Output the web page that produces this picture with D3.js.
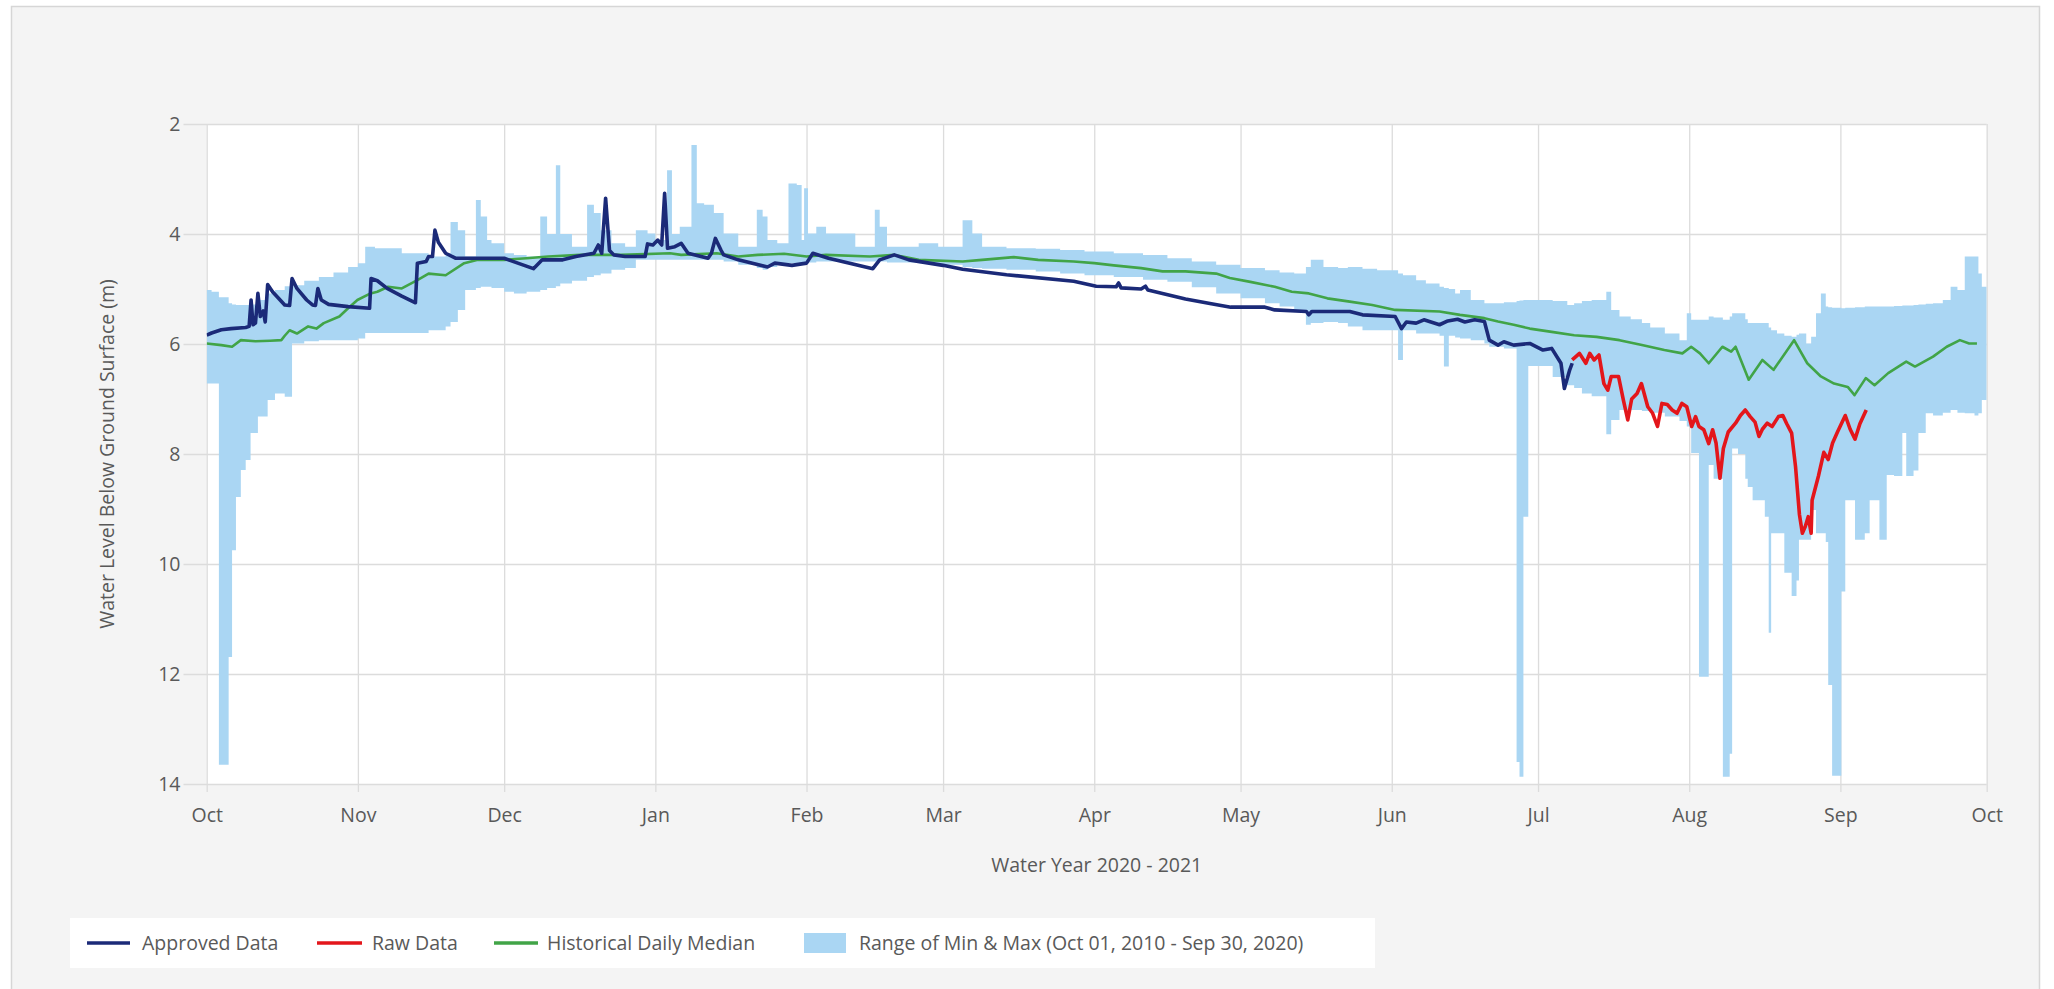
<!DOCTYPE html>
<html>
<head>
<meta charset="utf-8">
<title>Water Level Below Ground Surface</title>
<script src="https://cdn.jsdelivr.net/npm/d3@7"></script>
<style>
  html, body { margin: 0; padding: 0; background: #ffffff; }
  svg { display: block; }
  text { font-family: "Open Sans", "Noto Sans", sans-serif; fill: #595959; }
</style>
</head>
<body>
<svg id="chart" width="2054" height="989"></svg>
<script>
// Days since Oct 1, 2020 (start of the water year) paired with depth below ground surface (m)
const approvedSeries = [
  [0,5.84],[1,5.8],[3,5.74],[5,5.72],[8,5.7],[8.7,5.68],[9.1,5.2],[9.5,5.65],[10,5.62],[10.5,5.08],
  [11,5.5],[11.6,5.4],[12,5.6],[12.5,4.92],[13.5,5.05],[16,5.29],[17,5.3],[17.5,4.81],[18.5,4.99],
  [20.5,5.2],[21.7,5.29],[22.3,5.3],[22.8,4.99],[23.5,5.2],[25,5.28],[29,5.32],[33.4,5.35],[33.7,4.81],
  [35,4.85],[37,4.99],[40,5.13],[42.3,5.23],[42.8,5.25],[43.2,4.53],[45,4.5],[45.5,4.41],[46.3,4.41],
  [46.8,3.93],[47.5,4.15],[49,4.35],[51,4.44],[55.6,4.44],[61,4.44],[63.8,4.53],[67,4.63],[68.8,4.47],
  [73,4.47],[75.7,4.41],[79.4,4.35],[80.3,4.2],[81,4.35],[81.8,3.35],[82.6,4.3],[83.5,4.38],[85.8,4.41],
  [89.9,4.41],[90.4,4.18],[91.5,4.2],[92.5,4.11],[93.3,4.2],[93.9,3.26],[94.5,4.26],[96,4.23],[97.3,4.17],
  [98.7,4.35],[102.8,4.44],[103.5,4.35],[104.3,4.08],[105.5,4.3],[106,4.38],[109,4.47],[115,4.6],
  [116.5,4.53],[120,4.57],[123,4.53],[124.3,4.35],[127.5,4.44],[136.6,4.63],[138,4.47],[141,4.38],
  [144,4.47],[151,4.57],[155,4.64],[164,4.74],[177.8,4.86],[182.4,4.95],[186.5,4.96],[187,4.89],
  [187.5,4.98],[191.6,5.0],[192.5,4.95],[193,5.02],[200.7,5.18],[206,5.27],[210,5.33],[217,5.33],
  [219,5.38],[225.5,5.41],[226,5.47],[226.6,5.41],[234.4,5.41],[237,5.47],[243.7,5.5],[245,5.72],
  [246,5.6],[248,5.62],[249.6,5.56],[252.8,5.65],[254.5,5.58],[256.5,5.55],[258,5.6],[260,5.56],
  [262,5.59],[263,5.93],[264.8,6.02],[266,5.96],[268,6.02],[271.3,5.99],[274,6.11],[275.8,6.08],
  [277.7,6.35],[278.4,6.81],[279.5,6.47],[280,6.35]
];

const rawSeries = [
  [280,6.29],[281.5,6.17],[282.8,6.35],[283.6,6.17],[284.5,6.29],[285.5,6.2],[286.5,6.72],[287.3,6.84],
  [288,6.59],[289.5,6.59],[290.5,7.02],[291.4,7.38],[292.2,7.0],[293.3,6.9],[294.2,6.72],[295.5,7.14],
  [296.5,7.26],[297.5,7.5],[298.4,7.08],[299.5,7.1],[300.5,7.2],[301.5,7.26],[302.5,7.08],[303.5,7.14],
  [304.5,7.5],[305.3,7.32],[306,7.5],[307,7.56],[308,7.81],[308.8,7.56],[309.5,7.8],[310.3,8.44],
  [311,7.9],[312,7.6],[313.5,7.44],[314.5,7.3],[315.5,7.2],[316.5,7.32],[317.5,7.42],[318.3,7.68],
  [319,7.55],[320,7.44],[321,7.5],[322.3,7.32],[323.2,7.3],[324,7.45],[325,7.62],[325.8,8.23],
  [326.6,9.1],[327.2,9.44],[327.8,9.32],[328.4,9.14],[329,9.44],[329.2,8.84],[330.5,8.4],[331.6,7.97],
  [332.5,8.1],[333.4,7.8],[334.4,7.6],[335.2,7.45],[336,7.3],[337,7.55],[338,7.73],[339,7.45],[340.3,7.2]
];

const medianSeries = [
  [0,5.99],[3,6.02],[5.2,6.05],[7,5.93],[10,5.95],[13,5.94],[15.3,5.93],[16,5.85],[17,5.75],[18.5,5.81],
  [20.8,5.68],[22.5,5.72],[24,5.62],[27.2,5.5],[29,5.35],[30.9,5.2],[33.6,5.08],[35,5.05],[37.2,4.96],
  [40,4.99],[43.2,4.84],[45.5,4.72],[49,4.75],[52.8,4.53],[55.6,4.47],[61,4.47],[65.6,4.44],[70,4.41],
  [76.6,4.38],[85,4.38],[95,4.35],[97.3,4.38],[104.6,4.35],[109,4.41],[113,4.38],[118.4,4.36],[123,4.41],
  [127,4.38],[136,4.41],[141,4.38],[146,4.47],[155,4.5],[159,4.47],[165.5,4.42],[170.5,4.47],[177.8,4.5],
  [182,4.53],[186,4.57],[191.6,4.62],[196,4.68],[200.7,4.68],[207,4.72],[209.8,4.8],[214,4.87],[219,4.96],
  [222.5,5.05],[226,5.08],[229.8,5.17],[234.4,5.23],[239,5.29],[243.7,5.38],[252.8,5.41],[257,5.47],
  [262,5.53],[264.8,5.59],[268,5.65],[271.3,5.72],[275.8,5.78],[280.4,5.84],[285,5.87],[289.7,5.93],
  [294.3,6.02],[298.9,6.11],[302.6,6.17],[304.4,6.05],[306.2,6.17],[308,6.35],[310.8,6.05],[312.6,6.14],
  [313.5,6.05],[316.2,6.65],[319,6.29],[321.3,6.47],[325.5,5.93],[328.2,6.35],[331,6.59],[333.7,6.72],
  [336.5,6.78],[337.9,6.93],[340.2,6.62],[342,6.75],[344.8,6.53],[348.5,6.32],[350.3,6.41],[354,6.23],
  [356.8,6.05],[359.5,5.93],[361.4,5.99],[363,5.99]
];

// Historical range: [day, shallowest level, deepest level], held until the next entry
const rangeSeries = [
  [0,5.02,6.72],[1,5.05,6.72],[2.5,5.15,13.65],[4.5,5.26,11.69],[5.2,5.28,9.75],[6,5.29,8.78],
  [7,5.29,8.29],[8,5.29,8.11],[9,5.28,7.62],[10.5,5.2,7.32],[12.5,5.08,7.02],[14,5.02,6.9],[16,4.95,6.96],
  [17.5,4.93,5.99],[20,4.85,5.95],[23,4.78,5.93],[26,4.7,5.93],[29,4.6,5.93],[31,4.53,5.9],[32.5,4.23,5.8],
  [34.5,4.26,5.8],[40,4.35,5.8],[45.5,4.41,5.75],[49,4.35,5.68],[50,3.78,5.6],[51.5,3.93,5.38],
  [53,4.41,5.02],[55.2,3.38,4.98],[56.2,3.68,4.96],[57.5,4.11,4.96],[58.4,4.17,4.98],[61,4.35,5.05],
  [63,4.38,5.08],[65.6,4.41,5.05],[68.4,3.68,5.02],[69.8,4.0,4.98],[71.6,2.75,4.95],[72.5,4.0,4.9],
  [74.9,4.23,4.85],[78,3.47,4.78],[79.4,3.62,4.75],[80.8,3.93,4.72],[83,4.17,4.65],[85.8,4.23,4.62],
  [88,3.93,4.47],[90.4,3.99,4.47],[92,4.11,4.47],[94.4,2.84,4.47],[95.4,4.0,4.47],[97,3.87,4.47],
  [99.4,2.38,4.47],[100.5,3.44,4.47],[102,3.47,4.47],[104,3.62,4.47],[106,3.99,4.5],[109,4.23,4.56],
  [112.8,3.56,4.62],[114,3.68,4.65],[115,4.11,4.6],[117,4.17,4.53],[119.3,3.08,4.53],[121,3.11,4.53],
  [122,4.11,4.53],[122.5,3.17,4.53],[123.3,3.99,4.52],[125,3.87,4.5],[127,3.99,4.5],[131,3.99,4.5],
  [133,4.23,4.5],[137,3.56,4.5],[138,3.87,4.5],[139.5,4.23,4.52],[146,4.17,4.53],[150,4.23,4.56],
  [155,3.75,4.6],[157,3.99,4.62],[159,4.23,4.63],[164,4.26,4.65],[170,4.27,4.68],[175,4.29,4.72],
  [180,4.32,4.75],[186,4.35,4.78],[192,4.38,4.83],[197,4.44,4.87],[202,4.5,4.97],[207,4.56,5.08],
  [212,4.62,5.17],[217,4.66,5.26],[220,4.7,5.32],[223,4.72,5.38],[225.4,4.6,5.65],[226.4,4.47,5.62],
  [229,4.6,5.6],[232,4.62,5.62],[234,4.6,5.68],[237,4.63,5.75],[240,4.66,5.75],[244.3,4.72,6.29],
  [245.3,4.75,5.75],[248,4.84,5.81],[250,4.9,5.81],[252.8,4.96,5.85],[253.7,4.98,6.41],[254.7,5.0,5.85],
  [256,5.08,5.88],[257,5.02,5.9],[259.2,5.2,5.93],[262,5.26,5.99],[263,5.26,6.05],[266,5.24,6.08],
  [268.6,5.22,13.6],[269.2,5.21,13.87],[270,5.2,9.14],[271,5.2,6.4],[276,5.22,6.6],[279,5.29,6.75],
  [280.4,5.26,6.8],[282,5.22,6.9],[284,5.2,6.95],[287,5.05,7.64],[288,5.38,7.38],[289.7,5.5,7.2],
  [292,5.55,7.2],[294.3,5.62,7.22],[296,5.7,7.25],[299,5.81,7.32],[302,5.93,7.4],[303.5,5.44,7.5],
  [304.4,5.56,7.98],[306,5.56,12.05],[308,5.5,8.2],[309,5.52,8.45],[310.9,5.56,13.87],[312.3,5.5,13.45],
  [312.8,5.44,7.9],[314,5.44,8.0],[315.5,5.55,8.45],[316,5.62,8.6],[317,5.62,8.84],[319.5,5.62,9.14],
  [320.3,5.7,11.25],[320.8,5.75,9.44],[322,5.81,9.44],[323.5,5.85,10.16],[325,5.87,10.58],[326,5.83,10.3],
  [326.5,5.81,9.56],[328,5.99,9.56],[329,5.87,9.02],[330,5.44,9.44],[331,5.08,9.44],[332,5.32,9.6],
  [332.5,5.33,12.2],[333.3,5.34,13.85],[335.2,5.35,10.5],[336,5.34,8.84],[338,5.33,9.56],[340,5.32,9.44],
  [341,5.32,8.84],[343,5.32,9.56],[344.5,5.32,8.38],[346,5.31,8.4],[347.7,5.3,7.62],[348.5,5.3,8.4],
  [350,5.29,8.3],[351,5.28,7.62],[352.5,5.27,7.26],[354,5.26,7.3],[356,5.2,7.25],[357.6,4.96,7.2],
  [359,5.02,7.25],[360.5,4.41,7.26],[362.5,4.41,7.3],[363.3,4.72,7.26],[364,4.96,7.02],[365,4.96,7.02]
];

const yTickValues = [2, 4, 6, 8, 10, 12, 14];
const legendLabels = ["Approved Data", "Raw Data", "Historical Daily Median",
                      "Range of Min & Max (Oct 01, 2010 - Sep 30, 2020)"];

const COLORS = { approved: "#1b2a78", raw: "#e3161b", median: "#41a447", range: "#aad6f3" };

const waterYearStart = Date.UTC(2020, 9, 1);
const dayToDate = d => new Date(waterYearStart + d * 864e5);

const svg = d3.select("#chart");
const W = 2054, H = 989;
const plot = { left: 206.7, right: 1986.7, top: 124, bottom: 784 };

// Card background
svg.append("rect").attr("x", 11.5).attr("y", 6.5).attr("width", 2028).attr("height", 1000)
  .attr("fill", "#f4f4f4").attr("stroke", "#d6d6d6").attr("stroke-width", 1.5);

// Plot background
svg.append("rect").attr("x", plot.left).attr("y", plot.top)
  .attr("width", plot.right - plot.left).attr("height", plot.bottom - plot.top)
  .attr("fill", "#ffffff");

const x = d3.scaleUtc()
  .domain([new Date(Date.UTC(2020, 9, 1)), new Date(Date.UTC(2021, 9, 1))])
  .range([plot.left, plot.right]);
const y = d3.scaleLinear().domain([2, 14]).range([plot.top, plot.bottom]);

// Y axis with grid lines that run across the plot and poke out to the left
const yAxisX = 183.5;
const yAxis = svg.append("g").attr("transform", `translate(${yAxisX},0)`)
  .call(d3.axisLeft(y).tickValues(yTickValues).tickSize(-(plot.right - yAxisX)).tickPadding(3));
yAxis.select(".domain").remove();
yAxis.selectAll(".tick line").attr("stroke", "#dcdcdc").attr("stroke-width", 1.3);
yAxis.selectAll(".tick text").style("font-size", "19.5px").attr("fill", "#595959");

// X axis: monthly ticks with vertical grid lines
const xAxisY = 792;
const xAxis = svg.append("g").attr("transform", `translate(0,${xAxisY})`)
  .call(d3.axisBottom(x).ticks(d3.utcMonth.every(1)).tickFormat(d3.utcFormat("%b"))
    .tickSize(-(xAxisY - plot.top)).tickPadding(16));
xAxis.select(".domain").remove();
xAxis.selectAll(".tick line").attr("stroke", "#dcdcdc").attr("stroke-width", 1.3);
xAxis.selectAll(".tick text").style("font-size", "19.5px").attr("fill", "#595959");

// Clip for the data marks
svg.append("clipPath").attr("id", "plotClip").append("rect")
  .attr("x", plot.left).attr("y", plot.top - 2)
  .attr("width", plot.right - plot.left).attr("height", plot.bottom - plot.top + 2);

const marks = svg.append("g").attr("clip-path", "url(#plotClip)");

// Historical min/max range
const rangeArea = d3.area()
  .x(d => x(dayToDate(d[0])))
  .y0(d => y(d[2]))
  .y1(d => y(d[1]))
  .curve(d3.curveStepAfter);
marks.append("path").datum(rangeSeries).attr("d", rangeArea).attr("fill", COLORS.range);

const line = d3.line().x(d => x(dayToDate(d[0]))).y(d => y(d[1]));

marks.append("path").datum(medianSeries).attr("d", line)
  .attr("fill", "none").attr("stroke", COLORS.median).attr("stroke-width", 2.6)
  .attr("stroke-linejoin", "round");
marks.append("path").datum(approvedSeries).attr("d", line)
  .attr("fill", "none").attr("stroke", COLORS.approved).attr("stroke-width", 3.6)
  .attr("stroke-linejoin", "round");
marks.append("path").datum(rawSeries).attr("d", line)
  .attr("fill", "none").attr("stroke", COLORS.raw).attr("stroke-width", 3.6)
  .attr("stroke-linejoin", "round");

// Axis titles
svg.append("text").attr("x", (plot.left + plot.right) / 2).attr("y", 872)
  .attr("text-anchor", "middle").style("font-size", "19.5px")
  .text("Water Year 2020 - 2021");
svg.append("text")
  .attr("transform", `translate(${107},${(plot.top + plot.bottom) / 2}) rotate(-90)`)
  .attr("text-anchor", "middle").attr("dy", "0.35em").style("font-size", "19.5px")
  .text("Water Level Below Ground Surface (m)");

// Legend
const legend = svg.append("g");
legend.append("rect").attr("x", 70).attr("y", 918).attr("width", 1305).attr("height", 50)
  .attr("fill", "#ffffff");
const legendItems = [
  { label: legendLabels[0], color: COLORS.approved, kind: "line", x0: 87, x1: 130, tx: 142 },
  { label: legendLabels[1], color: COLORS.raw, kind: "line", x0: 317, x1: 362, tx: 372 },
  { label: legendLabels[2], color: COLORS.median, kind: "line", x0: 494, x1: 538, tx: 547 },
  { label: legendLabels[3], color: COLORS.range, kind: "box", x0: 804, x1: 846, tx: 859 }
];
const legendY = 943;
legendItems.forEach(it => {
  if (it.kind === "line") {
    legend.append("line").attr("x1", it.x0).attr("x2", it.x1)
      .attr("y1", legendY).attr("y2", legendY)
      .attr("stroke", it.color).attr("stroke-width", 3.6);
  } else {
    legend.append("rect").attr("x", it.x0).attr("y", legendY - 10)
      .attr("width", it.x1 - it.x0).attr("height", 20).attr("fill", it.color);
  }
  legend.append("text").attr("x", it.tx).attr("y", legendY).attr("dy", "0.35em")
    .style("font-size", "19.5px").text(it.label);
});
</script>
</body>
</html>
